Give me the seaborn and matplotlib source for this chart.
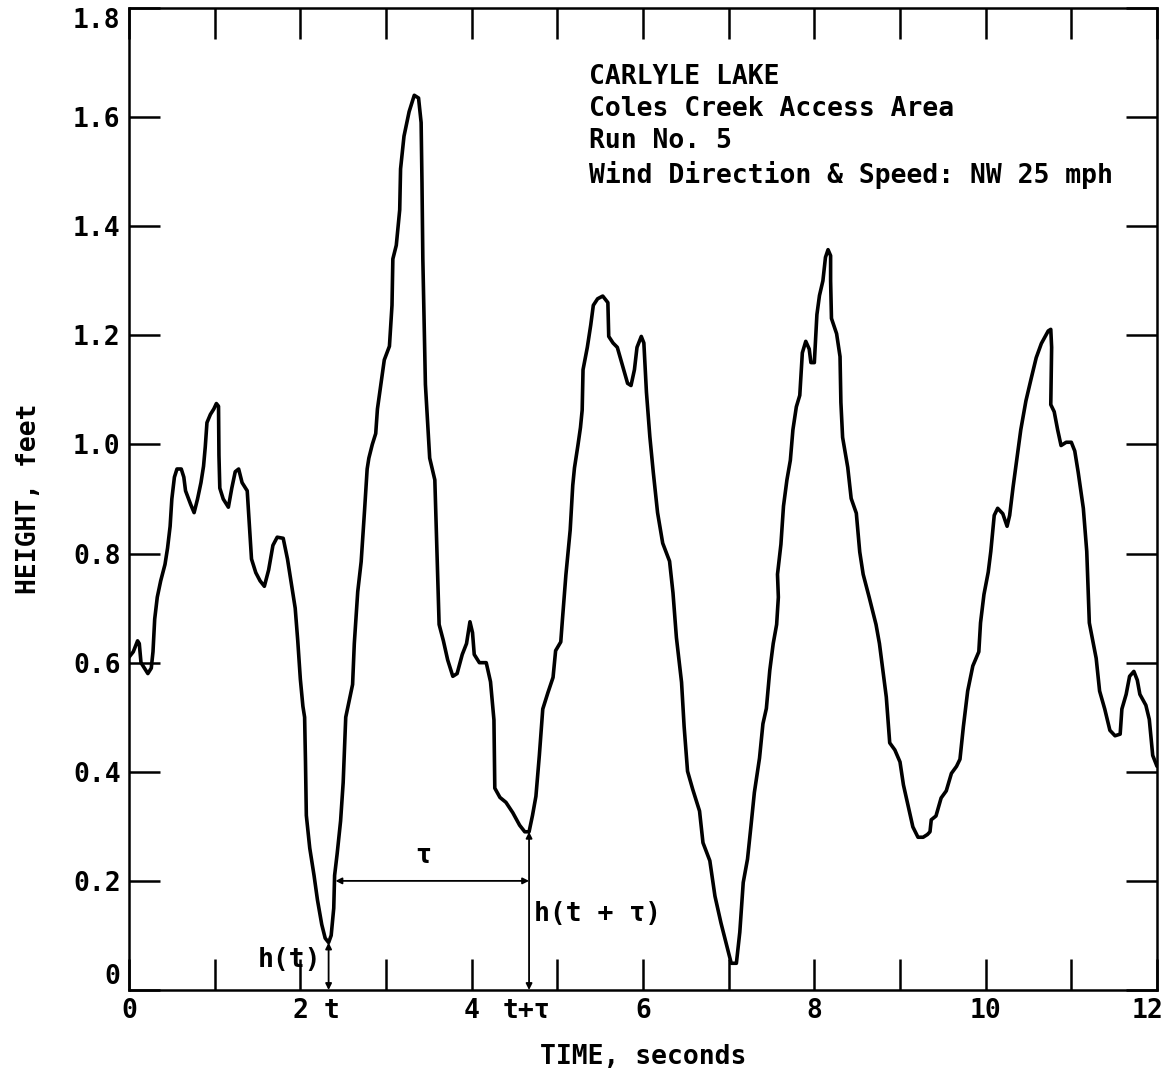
import numpy as np
import pandas as pd
import matplotlib
matplotlib.use("Agg")
import matplotlib.pyplot as plt
import matplotlib.transforms as mtransforms
import seaborn as sns

# ---------------- data ----------------
time_s = [
    0.00, 0.05, 0.10, 0.12, 0.14, 0.18, 0.22, 0.26, 0.28, 0.30, 0.33, 0.37, 0.42, 0.45, 0.48,
    0.50, 0.53, 0.56, 0.61, 0.64, 0.66, 0.72, 0.76, 0.80, 0.84, 0.87, 0.89, 0.91, 0.95, 0.99,
    1.02, 1.045, 1.05, 1.06, 1.10, 1.16, 1.20, 1.24, 1.28, 1.32, 1.38, 1.41, 1.43, 1.48, 1.53,
    1.58, 1.63, 1.68, 1.73, 1.80, 1.85, 1.90, 1.94, 1.97, 2.00, 2.03, 2.05, 2.06, 2.07, 2.11,
    2.16, 2.20, 2.25, 2.29, 2.33, 2.36, 2.39, 2.40, 2.43, 2.47, 2.50, 2.53, 2.57, 2.61,
    2.63, 2.67, 2.71, 2.75, 2.78, 2.80, 2.84, 2.88, 2.90, 2.94, 2.98, 3.04, 3.07, 3.08, 3.12,
    3.16, 3.17, 3.21, 3.27, 3.33, 3.38, 3.41, 3.42, 3.43, 3.46, 3.51, 3.57, 3.60, 3.62, 3.67,
    3.72, 3.78, 3.83, 3.89, 3.94, 3.98, 4.01, 4.03, 4.09, 4.17, 4.22, 4.26, 4.27, 4.33, 4.40,
    4.48, 4.56, 4.62, 4.67, 4.71, 4.75, 4.79, 4.83, 4.89,
    4.95, 4.98, 5.04, 5.06, 5.10, 5.15, 5.18, 5.20, 5.24, 5.27, 5.29, 5.30, 5.35, 5.39, 5.42,
    5.47, 5.53, 5.59, 5.60, 5.65, 5.70, 5.76, 5.82, 5.86, 5.90, 5.93, 5.98, 6.01, 6.04, 6.08,
    6.12, 6.17, 6.23, 6.31, 6.35, 6.39, 6.45, 6.48, 6.52, 6.58, 6.66, 6.70, 6.78, 6.84, 6.91,
    6.99, 7.03, 7.09, 7.13, 7.17, 7.22,
    7.26, 7.30, 7.36, 7.40, 7.44, 7.48, 7.52, 7.56, 7.58, 7.57, 7.61, 7.64, 7.68, 7.72, 7.75,
    7.79, 7.83, 7.86, 7.90, 7.94, 7.96, 8.00, 8.03, 8.06, 8.10, 8.13, 8.16, 8.19, 8.19, 8.20,
    8.26, 8.30, 8.31, 8.33, 8.39, 8.43, 8.49, 8.53, 8.57, 8.64, 8.72, 8.76, 8.80, 8.84, 8.88,
    8.94, 9.00, 9.04, 9.09, 9.15, 9.21, 9.27, 9.32,
    9.35, 9.365, 9.42, 9.48, 9.54, 9.60, 9.66, 9.70, 9.74, 9.79, 9.85, 9.92, 9.94, 9.98, 10.03,
    10.06, 10.10, 10.14, 10.20, 10.25, 10.28, 10.32, 10.36, 10.41, 10.47, 10.53, 10.59, 10.65,
    10.73, 10.76, 10.77, 10.76, 10.80, 10.84, 10.88, 10.94, 11.00, 11.04, 11.08, 11.14, 11.18,
    11.21, 11.25, 11.29, 11.33, 11.39, 11.45, 11.51, 11.57, 11.59, 11.64, 11.68, 11.73, 11.77,
    11.80, 11.87, 11.91, 11.95, 12.00,
]
height_ft = [
    0.61, 0.62, 0.64, 0.635, 0.60, 0.59, 0.58, 0.59, 0.62, 0.68, 0.72, 0.75, 0.78, 0.81, 0.85,
    0.90, 0.94, 0.955, 0.955, 0.94, 0.915, 0.89, 0.875, 0.90, 0.93, 0.96, 0.995, 1.04, 1.055, 1.065,
    1.075, 1.07, 0.98, 0.92, 0.90, 0.885, 0.92, 0.95, 0.955, 0.93, 0.915, 0.84, 0.79, 0.765, 0.75,
    0.74, 0.77, 0.815, 0.83, 0.828, 0.79, 0.74, 0.70, 0.64, 0.57, 0.52, 0.50, 0.42, 0.32, 0.26,
    0.21, 0.165, 0.12, 0.095, 0.087, 0.10, 0.15, 0.21, 0.25, 0.31, 0.38, 0.50, 0.53, 0.56,
    0.635, 0.73, 0.785, 0.88, 0.955, 0.975, 1.00, 1.02, 1.065, 1.11, 1.155, 1.18, 1.255, 1.34, 1.365,
    1.43, 1.505, 1.565, 1.61, 1.64, 1.635, 1.59, 1.48, 1.34, 1.11, 0.975, 0.935, 0.775, 0.67, 0.64,
    0.605, 0.575, 0.58, 0.615, 0.635, 0.675, 0.655, 0.615, 0.60, 0.60, 0.565, 0.495, 0.37, 0.353, 0.344,
    0.325, 0.302, 0.29, 0.29, 0.32, 0.355, 0.43, 0.515, 0.545,
    0.573, 0.622, 0.638, 0.68, 0.761, 0.843, 0.925, 0.957, 0.998, 1.031, 1.063, 1.137, 1.178, 1.219, 1.255,
    1.267, 1.272, 1.26, 1.198, 1.186, 1.178, 1.145, 1.112, 1.108, 1.137, 1.178, 1.198, 1.186, 1.096, 1.014,
    0.949, 0.875, 0.819, 0.786, 0.728, 0.646, 0.564, 0.483, 0.401, 0.368, 0.328, 0.27, 0.237, 0.172, 0.123,
    0.074, 0.049, 0.049, 0.106, 0.197, 0.24,
    0.30, 0.362, 0.425, 0.488, 0.516, 0.586, 0.635, 0.67, 0.72, 0.762, 0.817, 0.887, 0.935, 0.971, 1.027,
    1.069, 1.09, 1.168, 1.189, 1.175, 1.15, 1.15, 1.238, 1.273, 1.30, 1.343, 1.357, 1.346, 1.30, 1.231,
    1.203, 1.161, 1.077, 1.013, 0.958, 0.901, 0.874, 0.803, 0.762, 0.72, 0.67, 0.635, 0.586, 0.537, 0.453,
    0.44, 0.418, 0.376, 0.341, 0.299, 0.28, 0.28, 0.285,
    0.29, 0.312, 0.319, 0.352, 0.365, 0.397, 0.41, 0.423, 0.483, 0.548, 0.594, 0.62, 0.673, 0.725, 0.766,
    0.804, 0.87, 0.883, 0.873, 0.85, 0.87, 0.922, 0.969, 1.027, 1.08, 1.12, 1.159, 1.185,
    1.208, 1.211, 1.178, 1.073, 1.06, 1.027, 0.998, 1.004, 1.004, 0.988, 0.949, 0.883, 0.804,
    0.673, 0.64, 0.608, 0.548, 0.515, 0.476, 0.466, 0.469, 0.515, 0.542, 0.575, 0.584, 0.568,
    0.542, 0.522, 0.496, 0.43, 0.41,
]

x_ticks = [0, 2, 4, 6, 8, 10, 12]
x_tick_labels = ["0", "2", "4", "6", "8", "10", "12"]
x_minor_ticks = [1, 3, 5, 7, 9, 11]
y_ticks = [0, 0.2, 0.4, 0.6, 0.8, 1.0, 1.2, 1.4, 1.6, 1.8]
y_tick_labels = ["0", "0.2", "0.4", "0.6", "0.8", "1.0", "1.2", "1.4", "1.6", "1.8"]

info_lines = ["CARLYLE LAKE", "Coles Creek Access Area", "Run No. 5",
              "Wind Direction & Speed: NW 25 mph"]

t_mark = 2.33        # time t
tau = 2.34           # lag tau
h_t = 0.087          # h(t)
h_t_tau = 0.29       # h(t + tau)
tau_arrow_y = 0.2
tau_arrow_start = 2.41

# ---------------- styling ----------------
sns.set_theme(style="white")
plt.rcParams['font.family'] = ['DejaVu Sans Mono', 'DejaVu Sans']
plt.rcParams['text.color'] = 'black'
plt.rcParams['axes.labelcolor'] = 'black'
FS = 19
FW = "bold"

df = pd.DataFrame({"TIME": time_s, "HEIGHT": height_ft})

W, H = 1163, 1078
fig = plt.figure(figsize=(W / 100, H / 100), dpi=100)
fig.patch.set_facecolor("white")
ax = fig.add_axes([129 / W, 1 - 990 / H, (1157 - 129) / W, (990 - 8) / H])

sns.lineplot(data=df, x="TIME", y="HEIGHT", sort=False, estimator=None,
             color="black", linewidth=2.6, ax=ax)

ax.set_xlim(0, 12)
ax.set_ylim(0, 1.8)
ax.set_xticks(x_ticks)
ax.set_xticklabels(x_tick_labels, fontweight=FW)
ax.set_xticks(x_minor_ticks, minor=True)
ax.set_yticks(y_ticks)
ax.set_yticklabels(y_tick_labels, fontweight=FW)
ax.tick_params(which="both", direction="in", length=22, width=1.8, color="black",
               top=True, right=True, bottom=True, left=True)
ax.tick_params(which="major", labelsize=FS, pad=6, labelcolor="black")

# end labels placed like the reference
ylabels = ax.get_yticklabels()
ylabels[0].set_va("bottom")
ylabels[-1].set_va("top")
xlabels = ax.get_xticklabels()
xlabels[-1].set_transform(xlabels[-1].get_transform() +
                          mtransforms.ScaledTranslation(-10 / 100, 0, fig.dpi_scale_trans))

for s in ax.spines.values():
    s.set_linewidth(1.8)
    s.set_color("black")
    s.set_visible(True)

ax.set_xlabel("TIME, seconds", fontsize=FS, labelpad=14, color="black", fontweight=FW)
ax.set_ylabel("HEIGHT, feet", fontsize=FS, labelpad=22, color="black", fontweight=FW)

# info text block
ax.text(5.37, 1.697, "\n".join(info_lines), ha="left", va="top", fontsize=FS,
        linespacing=1.3, color="black", fontweight=FW)

# lag annotations
arrow_kw = dict(arrowstyle="<|-|>", lw=1.3, color="black", mutation_scale=9,
                shrinkA=0, shrinkB=0)
ax.annotate("", xy=(t_mark, h_t), xytext=(t_mark, 0), arrowprops=arrow_kw)
ax.annotate("", xy=(t_mark + tau, h_t_tau), xytext=(t_mark + tau, 0), arrowprops=arrow_kw)
ax.annotate("", xy=(t_mark + tau, tau_arrow_y), xytext=(tau_arrow_start, tau_arrow_y),
            arrowprops=arrow_kw)

txt_kw = dict(fontsize=FS, fontweight=FW, color="black")
ax.text(t_mark - 0.09, 0.055, "h(t)", ha="right", va="center", **txt_kw)
ax.text(t_mark + tau + 0.06, 0.14, "h(t + τ)", ha="left", va="center", **txt_kw)
ax.text(3.43, 0.245, "τ", ha="center", va="center", **txt_kw)
ax.annotate("t", xy=(t_mark + 0.04, 0), xytext=(0, -6), textcoords="offset points",
            ha="center", va="top", annotation_clip=False, **txt_kw)
ax.annotate("t+τ", xy=(t_mark + tau - 0.03, 0), xytext=(0, -6), textcoords="offset points",
            ha="center", va="top", annotation_clip=False, **txt_kw)

fig.savefig("out.png", dpi=100, facecolor="white")
